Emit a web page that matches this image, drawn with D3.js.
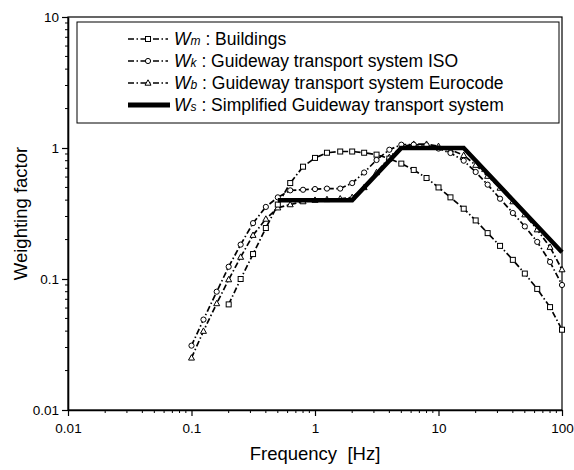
<!DOCTYPE html>
<html>
<head>
<meta charset="utf-8">
<script src="https://cdn.jsdelivr.net/npm/d3@7"></script>
<style>
  html, body { margin: 0; padding: 0; background: #fff; }
  svg { display: block; font-family: Arial, "Liberation Sans", sans-serif; }
</style>
</head>
<body>
<svg id="chart" width="574" height="470"></svg>
<script>
// One-third-octave band centre frequencies [Hz]
const freqs = [0.1, 0.125, 0.16, 0.2, 0.25, 0.315, 0.4, 0.5, 0.63, 0.8, 1, 1.25, 1.6, 2, 2.5,
  3.15, 4, 5, 6.3, 8, 10, 12.5, 16, 20, 25, 31.5, 40, 50, 63, 80, 100];

// Wm : Buildings (no values below 0.2 Hz)
const wmValues = [null, null, null, 0.064, 0.10, 0.155, 0.245, 0.37, 0.54, 0.72, 0.84, 0.92, 0.94,
  0.94, 0.92, 0.89, 0.83, 0.76, 0.68, 0.59, 0.50, 0.42, 0.344, 0.28, 0.224, 0.179, 0.14, 0.11,
  0.084, 0.061, 0.041];

// Wk : Guideway transport system ISO
const wkValues = [0.031, 0.049, 0.080, 0.124, 0.183, 0.267, 0.355, 0.42, 0.475, 0.48, 0.486, 0.49,
  0.49, 0.54, 0.65, 0.81, 0.97, 1.06, 1.06, 1.05, 0.99, 0.916, 0.80, 0.656, 0.525, 0.41, 0.319,
  0.252, 0.192, 0.135, 0.09];

// Wb : Guideway transport system Eurocode
const wbValues = [0.025, 0.040, 0.065, 0.099, 0.147, 0.216, 0.287, 0.35, 0.37, 0.39, 0.40, 0.405,
  0.41, 0.42, 0.50, 0.65, 0.85, 1.02, 1.07, 1.07, 1.03, 0.97, 0.88, 0.74, 0.61, 0.495, 0.39,
  0.31, 0.238, 0.175, 0.118];

// Ws : Simplified Guideway transport system (corner points)
const wsFreqs = [0.5, 2, 5, 16, 100];
const wsValues = [0.4, 0.4, 1, 1, 0.16];

const xTickValues = [0.01, 0.1, 1, 10, 100];
const xTickLabels = ["0.01", "0.1", "1", "10", "100"];
const yTickValues = [0.01, 0.1, 1, 10];
const yTickLabels = ["0.01", "0.1", "1", "10"];

const legendItems = [
  { sym: "m", text: " : Buildings", marker: "square" },
  { sym: "k", text: " : Guideway transport system ISO", marker: "circle" },
  { sym: "b", text: " : Guideway transport system Eurocode", marker: "triangle" },
  { sym: "s", text: " : Simplified Guideway transport system", marker: null }
];

const svg = d3.select("#chart");
const plot = { left: 68, right: 562, top: 17, bottom: 410 };

const x = d3.scaleLog().domain([0.01, 100]).range([plot.left, plot.right]);
const y = d3.scaleLog().domain([0.01, 10]).range([plot.bottom, plot.top]);

// Frame
svg.append("rect")
  .attr("x", plot.left).attr("y", plot.top)
  .attr("width", plot.right - plot.left).attr("height", plot.bottom - plot.top)
  .attr("fill", "none").attr("stroke", "#000").attr("stroke-width", 1.2);

// Minor tick positions
function minorTicks(lo, hi) {
  const out = [];
  for (let d = lo; d < hi; d *= 10) for (let k = 2; k <= 9; k++) out.push(d * k);
  return out;
}

// X axis
const xAxis = d3.axisBottom(x)
  .tickValues(xTickValues)
  .tickFormat((d, i) => xTickLabels[i])
  .tickSizeInner(6).tickSizeOuter(0).tickPadding(7);
const gx = svg.append("g").attr("transform", `translate(0,${plot.bottom})`).call(xAxis);
gx.select(".domain").attr("stroke-width", 1.6);
gx.selectAll(".tick line").attr("stroke-width", 1.2);
gx.selectAll("text").attr("font-size", 13.5).attr("fill", "#000");
gx.selectAll(".minor").data(minorTicks(0.01, 100)).enter().append("line")
  .attr("class", "minor")
  .attr("x1", d => x(d)).attr("x2", d => x(d)).attr("y1", 0).attr("y2", 3)
  .attr("stroke", "#000").attr("stroke-width", 1);

// Y axis
const yAxis = d3.axisLeft(y)
  .tickValues(yTickValues)
  .tickFormat((d, i) => yTickLabels[i])
  .tickSizeInner(6).tickSizeOuter(0).tickPadding(3);
const gy = svg.append("g").attr("transform", `translate(${plot.left},0)`).call(yAxis);
gy.select(".domain").attr("stroke-width", 1.6);
gy.selectAll(".tick line").attr("stroke-width", 1.2);
gy.selectAll("text").attr("font-size", 13.5).attr("fill", "#000");
gy.selectAll(".minor").data(minorTicks(0.01, 10)).enter().append("line")
  .attr("class", "minor")
  .attr("y1", d => y(d)).attr("y2", d => y(d)).attr("x1", 0).attr("x2", -3)
  .attr("stroke", "#000").attr("stroke-width", 1);

// Axis titles
svg.append("text")
  .attr("x", (plot.left + plot.right) / 2).attr("y", 460)
  .attr("text-anchor", "middle").attr("font-size", 18.5)
  .attr("xml:space", "preserve")
  .text("Frequency  [Hz]");
svg.append("text")
  .attr("transform", `translate(27,${(plot.top + plot.bottom) / 2}) rotate(-90)`)
  .attr("text-anchor", "middle").attr("font-size", 18.5)
  .text("Weighting factor");

// Markers
const triPath = "M0,-3.2L3,2.2L-3,2.2Z";
function drawMarker(g, type, cx, cy) {
  if (type === "square") {
    g.append("rect").attr("x", cx - 2.5).attr("y", cy - 2.5).attr("width", 5).attr("height", 5)
      .attr("fill", "#fff").attr("stroke", "#000").attr("stroke-width", 1);
  } else if (type === "circle") {
    g.append("circle").attr("cx", cx).attr("cy", cy).attr("r", 2.6)
      .attr("fill", "#fff").attr("stroke", "#000").attr("stroke-width", 1);
  } else if (type === "triangle") {
    g.append("path").attr("d", triPath).attr("transform", `translate(${cx},${cy})`)
      .attr("fill", "#fff").attr("stroke", "#000").attr("stroke-width", 1);
  }
}

const dashStyle = "6,2.5,1.5,2.5";
const line = d3.line()
  .defined(d => d[1] != null)
  .x(d => x(d[0])).y(d => y(d[1]));

const series = [
  { values: wbValues, marker: "triangle" },
  { values: wkValues, marker: "circle" },
  { values: wmValues, marker: "square" }
];

const curves = svg.append("g");
series.forEach(s => {
  const pts = freqs.map((f, i) => [f, s.values[i]]);
  curves.append("path").datum(pts).attr("d", line)
    .attr("fill", "none").attr("stroke", "#000").attr("stroke-width", 1.7)
    .attr("stroke-dasharray", dashStyle);
});
series.forEach(s => {
  freqs.forEach((f, i) => {
    if (s.values[i] != null) drawMarker(curves, s.marker, x(f), y(s.values[i]));
  });
});

// Simplified weighting
curves.append("path")
  .datum(wsFreqs.map((f, i) => [f, wsValues[i]]))
  .attr("d", line)
  .attr("fill", "none").attr("stroke", "#000").attr("stroke-width", 4.5)
  .attr("stroke-linejoin", "miter");

// Legend
const lg = svg.append("g");
lg.append("rect").attr("x", 77).attr("y", 22).attr("width", 482).attr("height", 101)
  .attr("fill", "#fff").attr("stroke", "#000").attr("stroke-width", 1);

legendItems.forEach((it, i) => {
  const cy = 39 + i * 22;
  if (it.marker) {
    lg.append("line").attr("x1", 128).attr("x2", 168).attr("y1", cy).attr("y2", cy)
      .attr("stroke", "#000").attr("stroke-width", 1.7).attr("stroke-dasharray", dashStyle);
    drawMarker(lg, it.marker, 148, cy);
  } else {
    lg.append("line").attr("x1", 128).attr("x2", 170).attr("y1", cy).attr("y2", cy)
      .attr("stroke", "#000").attr("stroke-width", 5);
  }
  const t = lg.append("text").attr("x", 174).attr("y", cy + 6).attr("font-size", 17.5)
    .attr("xml:space", "preserve");
  t.append("tspan").attr("font-style", "italic").text("W");
  t.append("tspan").attr("font-style", "italic").attr("font-size", 12).text(it.sym);
  t.append("tspan").text(it.text);
});
</script>
</body>
</html>
